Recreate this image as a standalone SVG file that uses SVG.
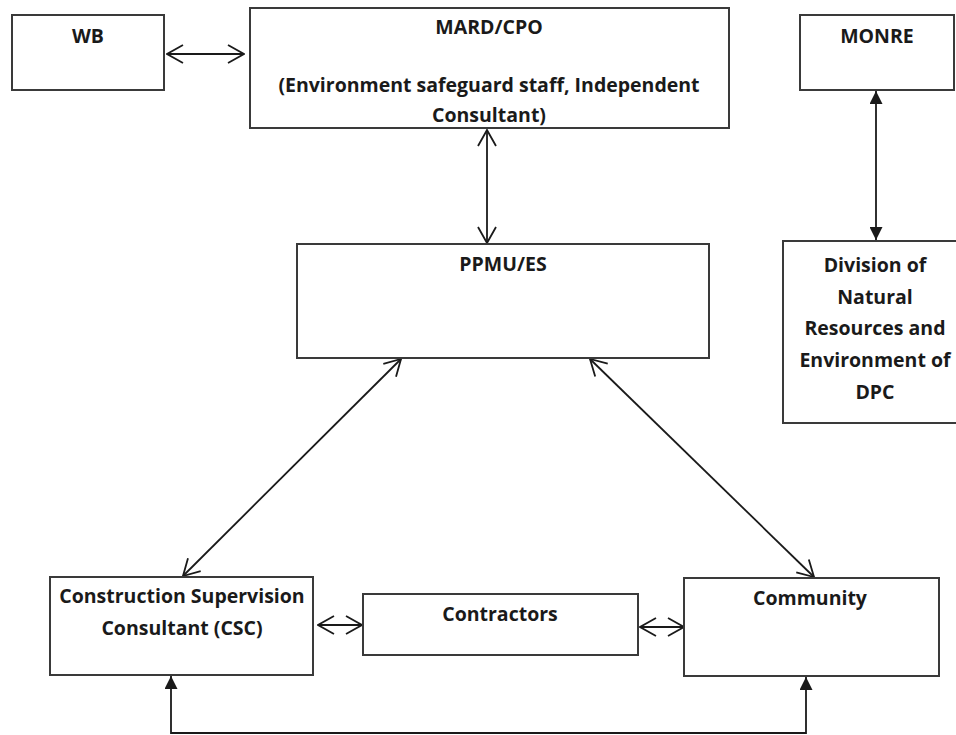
<svg xmlns="http://www.w3.org/2000/svg" width="956" height="735" viewBox="0 0 956 735">
  <style>
    .box { fill: #ffffff; stroke: #3a3a3a; stroke-width: 2; }
    .lbl { font-family: "Open Sans", "Liberation Sans", sans-serif; font-weight: bold; font-size: 19.5px; fill: #1a1a1a; text-anchor: middle; }
    .link { fill: none; stroke: #1a1a1a; stroke-width: 1.8; }
  </style>
  <defs>
    <marker id="open" viewBox="0 0 18 20" refX="17" refY="10" markerWidth="18" markerHeight="20" markerUnits="userSpaceOnUse" orient="auto-start-reverse">
      <path d="M1,1 L17,10 L1,19" fill="none" stroke="#1a1a1a" stroke-width="1.8"/>
    </marker>
    <marker id="solid" viewBox="0 0 13 13" refX="13" refY="6.5" markerWidth="13" markerHeight="13" markerUnits="userSpaceOnUse" orient="auto-start-reverse">
      <path d="M0,0 L13,6.5 L0,13 Z" fill="#1a1a1a"/>
    </marker>
  </defs>

  <rect width="956" height="735" fill="#ffffff"/>

  <!-- connectors -->
  <g id="connectors">
    <line class="link" x1="167" y1="54" x2="244" y2="54" marker-start="url(#open)" marker-end="url(#open)"/>
    <line class="link" x1="487" y1="130" x2="487" y2="243" marker-start="url(#open)" marker-end="url(#open)"/>
    <line class="link" x1="876" y1="91" x2="876" y2="240" marker-start="url(#solid)" marker-end="url(#solid)"/>
    <line class="link" x1="401" y1="359" x2="183" y2="576" marker-start="url(#open)" marker-end="url(#open)"/>
    <line class="link" x1="590" y1="359" x2="814" y2="577" marker-start="url(#open)" marker-end="url(#open)"/>
    <line class="link" x1="318" y1="625" x2="362" y2="625" marker-start="url(#open)" marker-end="url(#open)"/>
    <line class="link" x1="640" y1="627" x2="684" y2="627" marker-start="url(#open)" marker-end="url(#open)"/>
    <polyline class="link" points="171,676 171,733 806,733 806,677" marker-start="url(#solid)" marker-end="url(#solid)"/>
  </g>

  <g id="wb">
    <rect class="box" x="12" y="15" width="152" height="75"/>
    <text class="lbl" x="88" y="43">WB</text>
  </g>

  <g id="mard-cpo">
    <rect class="box" x="250" y="8" width="479" height="120"/>
    <text class="lbl" x="489" y="34">MARD/CPO</text>
    <text class="lbl" x="489" y="92">(Environment safeguard staff, Independent</text>
    <text class="lbl" x="489" y="122">Consultant)</text>
  </g>

  <g id="monre">
    <rect class="box" x="800" y="15" width="154" height="75"/>
    <text class="lbl" x="877" y="43">MONRE</text>
  </g>

  <g id="ppmu-es">
    <rect class="box" x="297" y="244" width="412" height="114"/>
    <text class="lbl" x="503" y="271">PPMU/ES</text>
  </g>

  <g id="dnre-dpc">
    <rect class="box" x="783" y="241" width="180" height="182"/>
    <text class="lbl" x="875" y="272">Division of</text>
    <text class="lbl" x="875" y="304">Natural</text>
    <text class="lbl" x="875" y="335">Resources and</text>
    <text class="lbl" x="875" y="367">Environment of</text>
    <text class="lbl" x="875" y="399">DPC</text>
  </g>

  <g id="csc">
    <rect class="box" x="50" y="577" width="263" height="98"/>
    <text class="lbl" x="182" y="603">Construction Supervision</text>
    <text class="lbl" x="182" y="635">Consultant (CSC)</text>
  </g>

  <g id="contractors">
    <rect class="box" x="363" y="594" width="275" height="61"/>
    <text class="lbl" x="500" y="621">Contractors</text>
  </g>

  <g id="community">
    <rect class="box" x="684" y="578" width="255" height="98"/>
    <text class="lbl" x="810" y="605">Community</text>
  </g>
</svg>
